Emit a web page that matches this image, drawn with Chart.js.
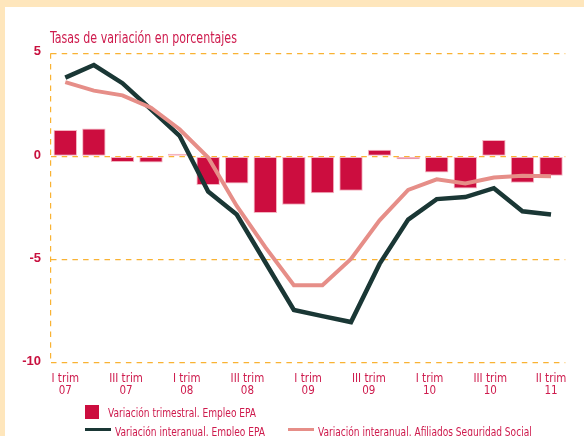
<!DOCTYPE html>
<html><head><meta charset="utf-8">
<script src="https://cdn.jsdelivr.net/npm/chart.js@4.4.1/dist/chart.umd.min.js"></script>
<style>
html,body{margin:0;padding:0;}
body{width:584px;height:436px;background:#FEE6BC;position:relative;overflow:hidden;font-family:"DejaVu Sans Condensed","DejaVu Sans",sans-serif;}
#panel{position:absolute;left:5px;top:7px;right:0;bottom:0;background:#fff;}
#wrap{position:absolute;left:0;top:0;width:584px;height:436px;}
.t{position:absolute;white-space:nowrap;color:#CE1B4D;transform-origin:0 50%;}
#title{left:50px;top:30.5px;font-size:15px;line-height:15px;transform:scaleX(0.82);}
.lg{font-size:13px;line-height:13px;transform:scaleX(0.775);}
.sw{position:absolute;}
</style>
</head>
<body>
<div id="panel"></div>
<div id="wrap"><canvas id="c" width="584" height="436"></canvas></div>
<div class="t" id="title">Tasas de variación en porcentajes</div>
<div class="sw" style="left:85px;top:405px;width:14px;height:13.5px;background:#CC0D3F;"></div>
<div class="t lg" style="left:108px;top:406px;">Variación trimestral. Empleo EPA</div>
<div class="sw" style="left:85px;top:427.7px;width:26px;height:3.3px;background:#1A3735;"></div>
<div class="t lg" style="left:115px;top:424.5px;">Variación interanual. Empleo EPA</div>
<div class="sw" style="left:288px;top:427.7px;width:26px;height:3.3px;background:#E68E88;"></div>
<div class="t lg" style="left:318px;top:424.5px;">Variación interanual. Afiliados Seguridad Social</div>
<script>
const categories = ['I 07','II 07','III 07','IV 07','I 08','II 08','III 08','IV 08','I 09','II 09','III 09','IV 09','I 10','II 10','III 10','IV 10','I 11','II 11'];
const trimestralEPA = [1.28,1.35,-0.27,-0.30,0.13,-1.39,-1.31,-2.74,-2.34,-1.78,-1.66,0.32,-0.14,-0.78,-1.55,0.80,-1.27,-0.94];
const interanualEPA = [3.82,4.43,3.55,2.28,1.00,-1.70,-2.82,-5.13,-7.44,-7.74,-8.03,-5.21,-3.06,-2.07,-1.97,-1.54,-2.66,-2.82];
const interanualAfiliados = [3.60,3.19,2.96,2.36,1.32,-0.05,-2.40,-4.40,-6.24,-6.24,-4.97,-3.10,-1.62,-1.11,-1.31,-1.02,-0.94,-0.96];
const tickLabels = [['I trim','07'],['III trim','07'],['I trim','08'],['III trim','08'],['I trim','09'],['III trim','09'],['I trim','10'],['III trim','10'],['II trim','11']];
const yTicks = [5,0,-5,-10];

const gridColor = '#F9B233';
const dash = [5.5,5.2];
const cond = "'DejaVu Sans Condensed','DejaVu Sans',sans-serif";

new Chart(document.getElementById('c'), {
  type: 'bar',
  data: {
    labels: categories,
    datasets: [
      { type:'line', label:'Variación interanual. Afiliados Seguridad Social', data: interanualAfiliados,
        borderColor:'#E68E88', borderWidth:4, pointRadius:0, tension:0, order:0, borderJoinStyle:'miter', xAxisID:'x', yAxisID:'y' },
      { type:'line', label:'Variación interanual. Empleo EPA', data: interanualEPA,
        borderColor:'#1A3735', borderWidth:4.5, pointRadius:0, tension:0, order:1, borderJoinStyle:'miter', xAxisID:'x', yAxisID:'y' },
      { type:'bar', label:'Variación trimestral. Empleo EPA', data: trimestralEPA,
        backgroundColor:'#CC0D3F', borderColor:'#F4B4C0', borderWidth:1, borderSkipped:false,
        barPercentage:0.82, categoryPercentage:1, order:2, xAxisID:'x', yAxisID:'y' }
    ]
  },
  options: {
    responsive:false, animation:false, devicePixelRatio:1,
    layout:{ padding:{ left:0, right:18.7, top:53.3, bottom:0 } },
    plugins:{ legend:{display:false}, tooltip:{enabled:false}, title:{display:false} },
    scales:{
      x:{ type:'category', display:false, offset:true },
      xl:{ type:'linear', position:'bottom', min:-0.5, max:17.5, offset:false,
        afterBuildTicks:(s)=>{ s.ticks = tickLabels.map((_,i)=>({value: i*(categories.length-1)/(tickLabels.length-1)})); },
        afterFit:(s)=>{ s.height = 73.3; },
        grid:{display:false, drawTicks:false, tickLength:0, offset:false}, border:{display:false},
        ticks:{ autoSkip:false, maxRotation:0, padding:10, color:'#CE1B4D',
          font:{family:cond, size:11.5, lineHeight:1.04},
          callback:(v,i)=>tickLabels[i] } },
      xg:{ type:'linear', position:'bottom', min:-0.5, max:17.5, offset:false,
        afterBuildTicks:(s)=>{ s.ticks = [{value:-0.5}]; },
        afterFit:(s)=>{ s.height = 0; },
        ticks:{display:false},
        grid:{ color:gridColor, lineWidth:1.2, drawTicks:false, tickLength:0, offset:false },
        border:{ display:false, dash:dash } },
      y:{ type:'linear', min:-10, max:5,
        afterBuildTicks:(s)=>{ s.ticks = yTicks.map(v=>({value:v})); },
        afterFit:(s)=>{ s.width = 51; },
        grid:{ color:gridColor, lineWidth:1.2, drawTicks:false, tickLength:0 },
        border:{ display:false, dash:dash },
        ticks:{ padding:10, labelOffset:-1.5, color:'#C8103E',
          font:{family:"'Liberation Sans','Arial',sans-serif", size:13, weight:'bold'} } }
    }
  }
});
</script>
</body></html>
